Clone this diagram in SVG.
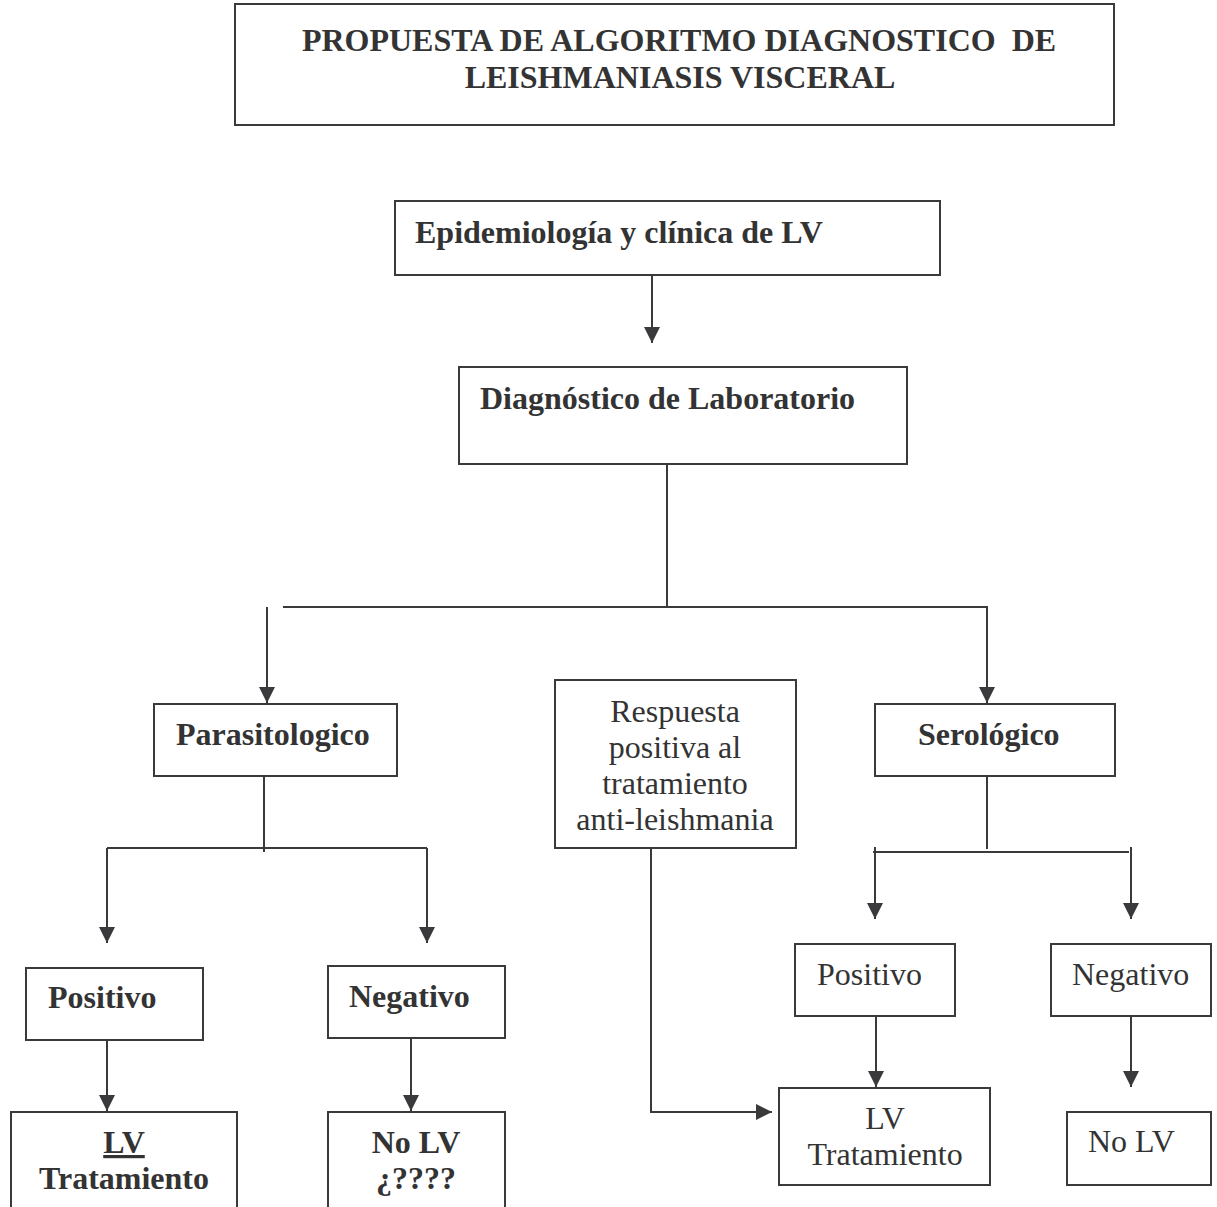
<svg xmlns="http://www.w3.org/2000/svg" width="1217" height="1207" viewBox="0 0 1217 1207">
<style>
.box{fill:#fff;stroke:#3a3a3c;stroke-width:2}
.ln{fill:none;stroke:#3a3a3c;stroke-width:2}
.b{font-family:"Liberation Serif","Times New Roman",serif;font-weight:bold;font-size:32px;fill:#333}
.r{font-family:"Liberation Serif","Times New Roman",serif;font-size:32px;fill:#333}
.m{text-anchor:middle}
</style>
<defs>
<marker id="ah" markerUnits="userSpaceOnUse" markerWidth="16" markerHeight="16" refX="16" refY="8" orient="auto" viewBox="0 0 16 16">
<path d="M0,0 L16,8 L0,16 z" fill="#3a3a3c"/>
</marker>
</defs>
<rect x="0" y="0" width="1217" height="1207" fill="#fff"/>

<g id="title">
<rect class="box" x="235" y="4" width="879" height="121"/>
<text class="b m" x="679" y="51" xml:space="preserve">PROPUESTA DE ALGORITMO DIAGNOSTICO  DE</text>
<text class="b m" x="680" y="88">LEISHMANIASIS VISCERAL</text>
</g>

<g id="connectors">
<path class="ln" d="M652,275 V343" marker-end="url(#ah)"/>
<path class="ln" d="M667,464 V608"/>
<path class="ln" d="M283,607 H987 V703" marker-end="url(#ah)"/>
<path class="ln" d="M267,607 V703" marker-end="url(#ah)"/>
<path class="ln" d="M264,777 V852"/>
<path class="ln" d="M107,848 H427"/>
<path class="ln" d="M107,848 V943" marker-end="url(#ah)"/>
<path class="ln" d="M427,848 V943" marker-end="url(#ah)"/>
<path class="ln" d="M107,1040 V1111" marker-end="url(#ah)"/>
<path class="ln" d="M411,1038 V1111" marker-end="url(#ah)"/>
<path class="ln" d="M651,848 V1112 H772" marker-end="url(#ah)"/>
<path class="ln" d="M987,777 V849"/>
<path class="ln" d="M873,852 H1129"/>
<path class="ln" d="M875,847 V919" marker-end="url(#ah)"/>
<path class="ln" d="M1131,847 V919" marker-end="url(#ah)"/>
<path class="ln" d="M876,1016 V1087" marker-end="url(#ah)"/>
<path class="ln" d="M1131,1016 V1087" marker-end="url(#ah)"/>
</g>

<g id="epidemiologia">
<rect class="box" x="395" y="201" width="545" height="74"/>
<text class="b" x="415" y="243">Epidemiología y clínica de LV</text>
</g>

<g id="diagnostico">
<rect class="box" x="459" y="367" width="448" height="97"/>
<text class="b" x="480" y="409">Diagnóstico de Laboratorio</text>
</g>

<g id="parasitologico">
<rect class="box" x="154" y="704" width="243" height="72"/>
<text class="b" x="176" y="745">Parasitologico</text>
</g>

<g id="respuesta">
<rect class="box" x="555" y="680" width="241" height="168"/>
<text class="r m" x="675" y="722">Respuesta</text>
<text class="r m" x="675" y="758">positiva al</text>
<text class="r m" x="675" y="794">tratamiento</text>
<text class="r m" x="675" y="830">anti-leishmania</text>
</g>

<g id="serologico">
<rect class="box" x="875" y="704" width="240" height="72"/>
<text class="b" x="918" y="745">Serológico</text>
</g>

<g id="positivo-par">
<rect class="box" x="26" y="968" width="177" height="72"/>
<text class="b" x="48" y="1008">Positivo</text>
</g>

<g id="negativo-par">
<rect class="box" x="328" y="966" width="177" height="72"/>
<text class="b" x="349" y="1007">Negativo</text>
</g>

<g id="lv-tratamiento-par">
<rect class="box" x="11" y="1112" width="226" height="110"/>
<text class="b m" x="124" y="1153" text-decoration="underline">LV</text>
<text class="b m" x="124" y="1189">Tratamiento</text>
</g>

<g id="no-lv-par">
<rect class="box" x="328" y="1112" width="177" height="110"/>
<text class="b m" x="416" y="1153">No LV</text>
<text class="b m" x="416" y="1189">¿????</text>
</g>

<g id="positivo-ser">
<rect class="box" x="795" y="944" width="160" height="72"/>
<text class="r" x="817" y="985">Positivo</text>
</g>

<g id="negativo-ser">
<rect class="box" x="1051" y="944" width="160" height="72"/>
<text class="r" x="1072" y="985">Negativo</text>
</g>

<g id="lv-tratamiento-ser">
<rect class="box" x="779" y="1088" width="211" height="97"/>
<text class="r m" x="885" y="1129">LV</text>
<text class="r m" x="885" y="1165">Tratamiento</text>
</g>

<g id="no-lv-ser">
<rect class="box" x="1067" y="1112" width="144" height="73"/>
<text class="r" x="1088" y="1152">No LV</text>
</g>
</svg>
